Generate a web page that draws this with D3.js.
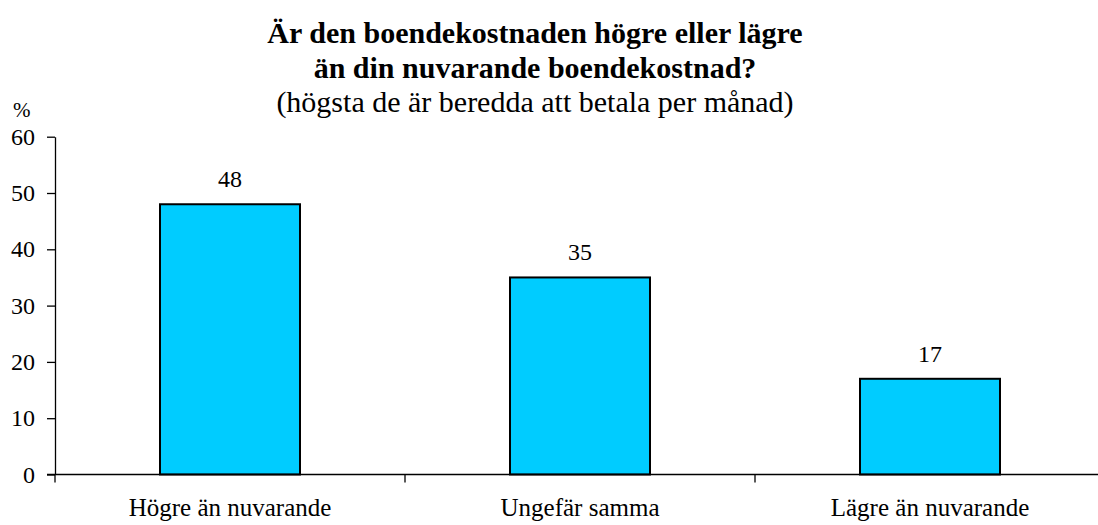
<!DOCTYPE html>
<html>
<head>
<meta charset="utf-8">
<script src="https://cdn.jsdelivr.net/npm/d3@7"></script>
<style>
  html, body { margin: 0; padding: 0; background: #fff; }
  svg { display: block; }
  text { font-family: "Liberation Serif", "Times New Roman", serif; fill: #000; }
</style>
</head>
<body>
<svg id="chart" width="1098" height="525"></svg>
<script>
const categories = ["Högre än nuvarande", "Ungefär samma", "Lägre än nuvarande"];
const values = [48, 35, 17];
const yTicks = [0, 10, 20, 30, 40, 50, 60];
const titleLines = ["Är den boendekostnaden högre eller lägre", "än din nuvarande boendekostnad?"];
const subtitle = "(högsta de är beredda att betala per månad)";
const yUnit = "%";

const svg = d3.select("#chart");
const plotLeft = 55, plotBottom = 474.5, plotTop = 136.7;
const bandW = 350;

const x = d3.scaleBand()
  .domain(categories)
  .range([plotLeft, plotLeft + bandW * categories.length])
  .padding(0);

const y = d3.scaleLinear().domain([0, 60]).range([plotBottom, plotTop]);

// Title and subtitle
const cx = 535;
svg.append("text").attr("x", cx).attr("y", 43)
  .attr("text-anchor", "middle").attr("font-size", 30).attr("font-weight", "bold")
  .text(titleLines[0]);
svg.append("text").attr("x", cx).attr("y", 78)
  .attr("text-anchor", "middle").attr("font-size", 30).attr("font-weight", "bold")
  .text(titleLines[1]);
svg.append("text").attr("x", cx).attr("y", 112)
  .attr("text-anchor", "middle").attr("font-size", 30)
  .text(subtitle);

// Unit label
svg.append("text").attr("x", 13).attr("y", 117).attr("font-size", 21).text(yUnit);

// Bars
const barW = x.bandwidth() * 0.4;
svg.append("g").selectAll("rect").data(values).join("rect")
  .attr("x", (d, i) => x(categories[i]) + (x.bandwidth() - barW) / 2)
  .attr("y", d => y(d))
  .attr("width", barW)
  .attr("height", d => y(0) - y(d))
  .attr("fill", "#00CCFF")
  .attr("stroke", "#000")
  .attr("stroke-width", 2);

// Value labels
svg.append("g").selectAll("text").data(values).join("text")
  .attr("x", (d, i) => x(categories[i]) + x.bandwidth() / 2)
  .attr("y", d => y(d) - 17)
  .attr("text-anchor", "middle").attr("font-size", 24)
  .text(d => d);

// Y axis
const yAxis = d3.axisLeft(y).tickValues(yTicks).tickSize(8).tickPadding(12).tickSizeOuter(0);
const gy = svg.append("g").attr("transform", `translate(${plotLeft},0)`).call(yAxis);
gy.attr("font-family", null).attr("font-size", null);
gy.select(".domain").attr("stroke", "#000").attr("stroke-width", 1.3);
gy.selectAll(".tick line").attr("stroke", "#000").attr("stroke-width", 1.3);
gy.selectAll(".tick text").attr("font-size", 24).attr("fill", "#000");

// X axis with ticks at category boundaries
const gx = svg.append("g").attr("transform", `translate(0,${plotBottom})`);
gx.append("line").attr("x1", plotLeft - 8).attr("x2", 1098).attr("y1", 0).attr("y2", 0)
  .attr("stroke", "#000").attr("stroke-width", 1.3);
const boundaries = categories.map(c => x(c)).concat([x.range()[1]]);
gx.selectAll("line.b").data(boundaries).join("line").attr("class", "b")
  .attr("x1", d => d).attr("x2", d => d).attr("y1", 0).attr("y2", 8)
  .attr("stroke", "#000").attr("stroke-width", 1.3);
gx.selectAll("text").data(categories).join("text")
  .attr("x", d => x(d) + x.bandwidth() / 2)
  .attr("y", 41.5)
  .attr("text-anchor", "middle").attr("font-size", 25)
  .text(d => d);
</script>
</body>
</html>
